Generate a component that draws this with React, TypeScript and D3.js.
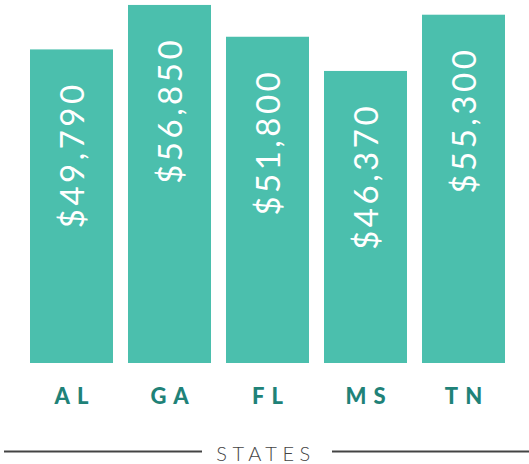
import { useMemo } from "react";
import * as d3 from "d3";

const width = 529,
	height = 464;

const states = ["AL", "GA", "FL", "MS", "TN"];
const wages = [49790, 56850, 51800, 46370, 55300];
const axisTitle = "STATES";

const barColor = "#4bbfad";
const labelColor = "#1f8278";
const titleColor = "#444444";

export default function App() {
	// band scale: step 98px, bars 83px wide
	const x = useMemo(
		() => d3.scaleBand().domain(states).range([22.5, 512.5]).paddingInner(15 / 98).paddingOuter(7.5 / 98),
		[]
	);
	const y = useMemo(() => d3.scaleLinear().domain([0, 57000]).range([363, 4]), []);
	const fmt = d3.format("$,");

	const baseY = y(0);

	return (
		<svg width={width} height={height} style={{ position: "absolute", left: 0, top: 0 }} fontFamily="Lato, 'Open Sans', sans-serif">
			{states.map((s, i) => {
				const bx = x(s);
				const cx = bx + x.bandwidth() / 2;
				const top = y(wages[i]);
				return (
					<g key={s}>
						<rect x={bx} y={top} width={x.bandwidth()} height={baseY - top} fill={barColor} />
						<text
							transform={`translate(${cx + 12.5},${top + 32}) rotate(-90)`}
							textAnchor="end"
							fill="#ffffff"
							fontSize={33}
							fontWeight={400}
							letterSpacing={3.5}
						>
							{fmt(wages[i])}
						</text>
						<text
							x={cx + 3.5}
							y={baseY + 41}
							textAnchor="middle"
							fill={labelColor}
							fontSize={22}
							fontWeight={900}
							letterSpacing={7}
						>
							{s}
						</text>
					</g>
				);
			})}
			<line x1={4} x2={202} y1={451.5} y2={451.5} stroke={titleColor} strokeWidth={2} />
			<line x1={332} x2={529} y1={451.5} y2={451.5} stroke={titleColor} strokeWidth={2} />
			<text x={266} y={461} textAnchor="middle" fill={titleColor} fontSize={20} fontWeight={300} letterSpacing={5.5}>
				{axisTitle}
			</text>
		</svg>
	);
}
